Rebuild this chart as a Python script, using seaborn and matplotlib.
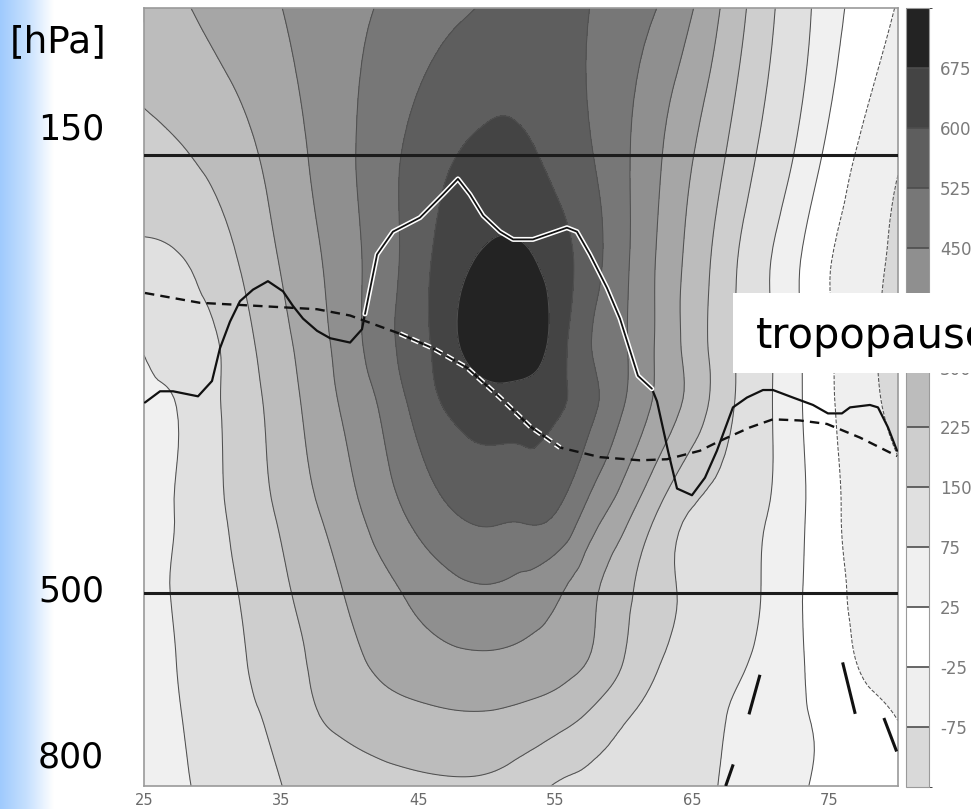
import numpy as np
import matplotlib
matplotlib.use("Agg")
import matplotlib.pyplot as plt
import matplotlib.tri as mtri
import matplotlib.ticker as mticker
import matplotlib.patheffects as pe
from matplotlib.colors import ListedColormap, BoundaryNorm, LinearSegmentedColormap
from matplotlib.patches import Rectangle
import seaborn as sns

# cross-section grid: latitude (deg N) x pressure (hPa)
lats = [25, 27.5, 30, 32.5, 35, 37.5, 40, 42.5, 45, 47.5, 50, 52.5, 55,
        57.5, 60, 62.5, 65, 67.5, 70, 72.5, 75, 77.5, 80]
plev = [100, 150, 200, 250, 300, 400, 500, 600, 700, 850]

f_100 = [265, 290, 318, 346, 374, 402, 431, 458, 485, 511, 532, 548, 546,
         525, 487, 448, 378, 281, 186, 106, 45, 5, -28]
f_150 = [202, 217, 244, 284, 333, 387, 440, 497, 551, 596, 620, 618, 578,
         531, 464, 385, 303, 222, 139, 72, 12, -36, -70]
f_200 = [135, 145, 183, 242, 305, 363, 427, 493, 568, 645, 686, 688, 643,
         558, 467, 367, 274, 180, 95, 34, -22, -56, -86]
f_250 = [82, 108, 140, 208, 278, 345, 419, 500, 572, 660, 722, 725, 648,
         530, 458, 364, 268, 173, 96, 36, -19, -61, -90]
f_300 = [58, 77, 134, 196, 258, 329, 394, 464, 549, 612, 636, 634, 612,
         547, 450, 356, 269, 170, 96, 37, -17, -57, -90]
f_400 = [58, 79, 128, 182, 236, 293, 352, 415, 474, 523, 543, 540, 527,
         424, 328, 222, 145, 113, 82, 40, -10, -46, -62]
f_500 = [55, 83, 122, 161, 211, 257, 309, 353, 395, 428, 440, 425, 387,
         320, 244, 177, 133, 104, 75, 35, -8, -38, -55]
f_600 = [50, 77, 113, 150, 193, 237, 282, 318, 343, 360, 365, 355, 335,
         298, 225, 155, 127, 93, 66, 33, 2, -32, -42]
f_700 = [46, 72, 104, 138, 172, 220, 248, 270, 284, 293, 294, 282, 259,
         216, 160, 127, 103, 75, 55, 33, 14, -8, -27]
f_850 = [42, 66, 91, 120, 149, 170, 188, 200, 210, 215, 212, 190, 145,
         127, 112, 100, 86, 71, 54, 33, 15, 5, -2]

levels = [-75, -25, 25, 75, 150, 225, 300, 375, 450, 525, 600, 675]
level_labels = ['-75', '-25', '25', '75', '150', '225', '300', '375', '450',
                '525', '600', '675']
fill_colors = ['#d9d9d9', '#efefef', '#ffffff', '#f0f0f0', '#e0e0e0', '#cecece',
               '#bcbcbc', '#a6a6a6', '#8f8f8f', '#777777', '#5e5e5e', '#444444',
               '#232323']

# tropopause (solid) and second tropopause estimate (dashed)
trop_lat = [25.07, 26.17, 27.12, 28.94, 29.96, 30.54, 31.27, 32.0, 32.95, 34.04,
            35.14, 35.87, 36.6, 37.62, 38.57, 40.03, 40.9, 41.12, 42.0, 43.16,
            45.13, 46.81, 47.9, 48.78, 49.73, 50.97, 51.92, 53.37, 54.61, 55.85,
            56.58, 57.53, 58.77, 59.72, 61.03, 62.05, 62.42, 63.22, 63.88, 64.97,
            65.92, 66.79, 67.96, 68.98, 70.15, 70.88, 72.34, 73.8, 74.89, 75.91,
            76.5, 77.95, 78.54, 79.27, 79.93]
trop_p = [296, 287, 287, 291, 279, 255, 237, 224, 217, 212,
          218, 227, 235, 243, 248, 251, 242, 232, 197, 185,
          178, 167, 160, 167, 177, 185, 189, 189, 186, 183,
          185, 197, 216, 235, 275, 285, 295, 338, 375, 382,
          364, 338, 300, 292, 286, 286, 292, 298, 305, 305,
          300, 298, 300, 317, 338]
dash_lat = [25.07, 29.08, 33.46, 37.62, 40.03, 43.67, 46.08, 48.56, 50.97, 53.15,
            55.34, 58.26, 61.18, 63.15, 65.55, 67.01, 69.2, 70.88, 72.85, 74.82,
            77.23, 79.93]
dash_p = [219, 225, 227, 229, 233, 245, 255, 269, 292, 316,
          335, 344, 347, 346, 338, 329, 317, 310, 311, 314,
          326, 343]

# short thick strokes in the lower right corner
stroke_lat0 = [69.93, 67.98, 75.96, 78.97]
stroke_lat1 = [69.13, 67.43, 76.88, 79.90]
stroke_p0 = [626, 801, 605, 705]
stroke_p1 = [698, 850, 697, 773]

field = np.array([f_100, f_150, f_200, f_250, f_300, f_400, f_500, f_600, f_700, f_850], float)

sns.set_style("white")
plt.rcParams['font.family'] = ['DejaVu Sans']

W, H = 971, 809
fig = plt.figure(figsize=(W / 100, H / 100), dpi=100)
fig.patch.set_facecolor('white')

# blue gradient strip on the left
bg = fig.add_axes([0, 0, 54 / W, 1])
blue = LinearSegmentedColormap.from_list('side', ['#9fcafd', '#c6e0fe', '#ffffff'])
bg.imshow(np.linspace(0, 1, 200)[None, :], aspect='auto', cmap=blue)
bg.axis('off')

ax = fig.add_axes([144 / W, 1 - 786 / H, (898 - 144) / W, (786 - 8) / H])

# smooth the field on a refined triangulation in (lat, log p) space
lat_g, p_g = np.meshgrid(lats, plev)
xn = (lat_g - 25) / 55.0
yn = np.log(p_g / 100.0) / np.log(8.5)
tri = mtri.Triangulation(xn.ravel(), yn.ravel())
tri_f, z_f = mtri.UniformTriRefiner(tri).refine_field(field.ravel(), subdiv=3)
tri_plot = mtri.Triangulation(tri_f.x * 55 + 25, 100 * np.exp(tri_f.y * np.log(8.5)),
                              tri_f.triangles)

ax.set_yscale('log')
ax.tricontourf(tri_plot, z_f, levels=[-1000] + levels + [1000], colors=fill_colors, zorder=1)
ax.tricontour(tri_plot, z_f, levels=levels, colors='#505050', linewidths=0.75, zorder=2)

ax.axhline(150, color='#1c1c1c', lw=2.2, zorder=3)
ax.axhline(500, color='#1c1c1c', lw=2.2, zorder=3)

halo = [pe.Stroke(linewidth=3.6, foreground='white'), pe.Normal()]
sns.lineplot(x=trop_lat, y=trop_p, sort=False, estimator=None, color='#111111',
             lw=1.6, ax=ax, zorder=4)
sns.lineplot(x=trop_lat[17:36], y=trop_p[17:36], sort=False, estimator=None,
             color='#111111', lw=1.3, ax=ax, zorder=5, path_effects=halo)
sns.lineplot(x=dash_lat, y=dash_p, sort=False, estimator=None, color='#111111',
             lw=1.7, ax=ax, zorder=4, linestyle=(0, (4, 2.6)))
sns.lineplot(x=dash_lat[5:11], y=dash_p[5:11], sort=False, estimator=None,
             color='#111111', lw=1.4, ax=ax, zorder=5, linestyle=(0, (4, 2.6)),
             path_effects=halo)
for a0, a1, b0, b1 in zip(stroke_lat0, stroke_lat1, stroke_p0, stroke_p1):
    ax.plot([a0, a1], [b0, b1], color='#111111', lw=2.2, solid_capstyle='butt', zorder=4)

ax.set_xlim(25, 80)
ax.set_ylim(850, 100)
ax.set_xticks([25, 35, 45, 55, 65, 75])
ax.set_yticks([200, 300, 400, 600, 700, 800])
ax.yaxis.set_minor_locator(mticker.NullLocator())
ax.yaxis.set_major_formatter(mticker.NullFormatter())
ax.yaxis.set_minor_formatter(mticker.NullFormatter())
ax.set_xlabel('')
ax.set_ylabel('')
ax.tick_params(axis='x', direction='in', length=10, width=1, color='#666666',
               top=True, labelsize=10.5, labelcolor='#6a6a6a', pad=5)
ax.tick_params(axis='y', direction='in', length=20, width=1, color='#666666',
               left=True)
for s in ax.spines.values():
    s.set_color('#9a9a9a')
    s.set_linewidth(1.2)

# colour bar with equal-size blocks
cax = fig.add_axes([906 / W, 1 - 787 / H, 23 / W, (787 - 8) / H])
bounds = [-125] + levels + [750]
cmap = ListedColormap(fill_colors)
norm = BoundaryNorm(bounds, cmap.N)
sm = plt.cm.ScalarMappable(cmap=cmap, norm=norm)
cb = fig.colorbar(sm, cax=cax, boundaries=bounds, ticks=levels, spacing='uniform',
                  drawedges=True)
cb.ax.set_yticklabels(level_labels)
cb.outline.set_edgecolor('#9a9a9a')
cb.dividers.set_color('#4d4d4d')
cb.dividers.set_linewidth(1.2)
cb.ax.tick_params(length=0, labelsize=12, labelcolor='#7a7a7a', pad=8)

# slide-style labels
fig.text(10 / W, 1 - 52 / H, '[hPa]', fontsize=27, ha='left', va='baseline', color='black')
fig.text(104 / W, 1 - 140 / H, '150', fontsize=25, ha='right', va='baseline', color='black')
fig.text(104 / W, 1 - 602 / H, '500', fontsize=25, ha='right', va='baseline', color='black')
fig.text(104 / W, 1 - 768 / H, '800', fontsize=25, ha='right', va='baseline', color='black')

fig.add_artist(Rectangle((733 / W, 1 - 373 / H), (W - 733) / W, 80 / H,
                         transform=fig.transFigure, facecolor='white',
                         edgecolor='none', zorder=10))
fig.text(756 / W, 1 - 348 / H, 'tropopause', fontsize=30, ha='left', va='baseline',
         color='black', zorder=11)

fig.savefig('out.png', dpi=100)
